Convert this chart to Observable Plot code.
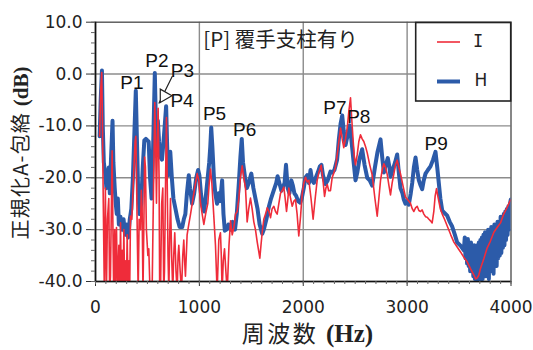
<!DOCTYPE html>
<html><head><meta charset="utf-8">
<script src="https://cdn.jsdelivr.net/npm/d3@7"></script>
<script src="https://cdn.jsdelivr.net/npm/@observablehq/plot@0.6"></script>
<style>body{margin:0;background:#fff} svg{display:block}</style>
</head><body><div id="chart"></div>
<script>
// Series H (thick blue)
const hFreq = [40,50,62,70,80,95,105,115,128,138,150,164,172,185,195,205,215,225,240,255,270,285,300,315,330,345,360,375,388,398,410,425,440,455,470,485,500,512,525,540,555,571,582,592,600,612,625,640,655,670,680,690,702,720,735,750,770,790,810,835,850,865,880,898,910,930,950,970,988,1000,1015,1030,1045,1060,1080,1095,1105,1114,1125,1140,1153,1170,1185,1200,1219,1232,1245,1260,1280,1300,1320,1343,1360,1380,1395,1408,1420,1440,1457,1475,1500,1520,1540,1560,1580,1605,1620,1645,1670,1690,1720,1740,1753,1770,1790,1801,1820,1834,1850,1867,1885,1900,1915,1932,1950,1970,1985,2005,2020,2038,2055,2070,2085,2102,2120,2140,2160,2175,2190,2214,2235,2262,2280,2300,2326,2343,2360,2375,2390,2407,2425,2448,2465,2481,2503,2520,2540,2567,2590,2616,2640,2664,2690,2715,2744,2760,2776,2795,2814,2830,2840,2860,2885,2904,2920,2936,2955,2968,2984,3000,3016,3035,3049,3065,3081,3097,3113,3130,3145,3160,3177,3200,3225,3250,3273,3290,3305,3320,3338,3360,3386,3410,3434,3460,3482,3510,3546,3555,3562,3570,3577,3585,3592,3600,3607,3615,3622,3630,3637,3645,3652,3660,3667,3675,3682,3690,3697,3705,3712,3720,3727,3735,3742,3750,3757,3765,3772,3780,3787,3795,3802,3810,3817,3825,3832,3840,3847,3855,3862,3870,3877,3885,3892,3900,3907,3915,3922,3930,3937,3945,3952,3960,3967,3975,3982,3990,3998];
const hDb = [-12,-5,0.7,-10,-17,-19.5,-22,-20,-18,-23,-16,-9,-17,-22,-25,-27,-24,-29,-27.5,-30,-28,-31,-29,-31.5,-28,-26,-20,-11,-3.2,-12,-22,-27,-25,-18,-12.8,-12.5,-12.8,-13,-20,-24,-14,0.2,-10,-14,-9,-13,-16,-16.5,-13,-9,-6.2,-14,-19.5,-15,-20,-24,-26,-28,-29.5,-29.5,-28,-27,-23,-19.5,-22,-25,-23,-20,-18.5,-19.5,-23,-25.5,-26.5,-24,-20,-17,-14,-10.3,-14,-20,-23,-25,-23,-24.5,-20.5,-27,-30.2,-30,-29,-30,-28.5,-30,-27,-21,-16,-12.5,-17,-20,-22,-21,-19.2,-22,-24,-26,-29,-30.8,-30,-28,-25.5,-24,-22.2,-21,-19.7,-21,-22.5,-22,-21,-17.5,-22,-23,-20.5,-21.5,-23,-23.5,-24.5,-24.8,-24,-22,-20,-19.5,-21,-18.5,-20.5,-21,-20,-19,-17.8,-17.5,-19.5,-21.2,-20.5,-18.8,-19,-18.5,-16.5,-12.5,-9.5,-8,-11,-13.7,-12,-9.9,-13,-16.2,-20.5,-19,-16.5,-14.5,-17.5,-20,-20.5,-21.5,-18,-15,-12.6,-16,-19,-17.5,-16.2,-18,-19.8,-18.5,-17,-15.5,-19,-22,-23,-24.2,-25,-24.5,-25.2,-23,-21,-18,-16.1,-18.5,-20.5,-21.5,-22.2,-20.5,-19.2,-18.5,-17.8,-16.5,-15,-18,-21,-24,-26.3,-26.8,-27.3,-28.5,-29.4,-31,-32.5,-33,-34,-31.5,-35.5,-32,-36.5,-31.8,-37,-33,-38,-32.5,-37.5,-34,-39,-33,-39.5,-34.5,-40,-33,-39.5,-32.5,-40,-32,-38.5,-31.5,-39.5,-31,-38,-30.5,-39,-31,-38.5,-30,-39.5,-30.5,-38,-29.5,-37.5,-30,-38.5,-29,-36.5,-29.5,-37,-28.5,-35.5,-28.5,-35,-27.5,-34.5,-28,-33.5,-27,-33,-26.5,-32,-26,-31,-25.5,-30,-25,-24.2];

// Series I (thin red)
const iFreq = [40,50,60,66,75,85,95,105,115,128,136,144,150,160,168,175,185,192,202,212,225,233,241,249,257,265,273,281,289,297,305,313,321,329,337,350,362,372,381,388,395,403,411,420,433,441,449,457,465,473,481,490,504,513,525,545,560,571,580,587,595,603,612,618,626,637,648,657,664,675,683,690,698,706,714,722,733,744,753,763,775,786,795,802,815,828,840,850,858,866,882,898,915,931,955,979,995,1011,1027,1043,1060,1081,1095,1107,1120,1139,1155,1171,1187,1203,1211,1219,1230,1242,1255,1268,1285,1300,1316,1332,1348,1364,1380,1395,1412,1428,1444,1460,1475,1492,1508,1524,1540,1557,1570,1582,1593,1605,1620,1637,1653,1670,1685,1700,1717,1733,1749,1765,1781,1797,1813,1826,1839,1850,1861,1878,1894,1910,1925,1941,1957,1974,1990,2006,2022,2038,2054,2075,2095,2115,2134,2150,2173,2190,2205,2218,2231,2245,2262,2278,2294,2310,2320,2340,2359,2375,2390,2407,2423,2440,2455,2468,2481,2492,2503,2520,2535,2551,2567,2583,2600,2616,2640,2664,2690,2712,2728,2744,2760,2776,2792,2808,2825,2840,2856,2872,2888,2904,2920,2936,2960,2984,3008,3032,3050,3065,3081,3097,3113,3129,3145,3161,3177,3193,3210,3225,3241,3257,3270,3283,3295,3305,3320,3338,3360,3386,3420,3450,3480,3514,3545,3578,3610,3642,3660,3675,3690,3706,3740,3771,3800,3835,3870,3899,3930,3960,3995];
const iDb = [-12,-3,0.3,-8,-25,-42,-22,-42,-28,-24,-42,-39,-30,-14.8,-30,-42,-30,-42,-29.6,-42,-33,-42,-28.7,-42,-34,-42,-30,-42,-36,-42,-31,-42,-36,-42,-27.4,-28,-22,-17,-13,-12,-20,-32,-42,-28,-30,-22.4,-26,-42,-30,-16,-18,-30,-35,-33.7,-42,-42,-20,-5.5,-15,-24.9,-14,-6.6,-20,-42,-42,-25,-22,-42,-38,-20,-8.4,-20,-35,-42,-32,-24,-35,-42,-35,-30.6,-38,-42,-35,-33,-38,-42,-35,-32,-36,-39,-31,-29,-27,-25,-22,-19.2,-20.5,-24.9,-27,-29,-27,-25,-21,-18.3,-21,-27.4,-33,-42,-32,-30.6,-35,-42,-36,-33.7,-38,-42,-33,-28.3,-31,-29.6,-27,-26.5,-24,-20,-17.7,-20,-22,-28.5,-26,-23.9,-26,-28.5,-30,-32.4,-34,-35.5,-33,-30.5,-28,-27,-25.8,-26.5,-27.7,-26,-25.5,-26.5,-27,-25,-23,-22.5,-21.8,-24,-26.5,-24.5,-22,-24,-25.5,-24.5,-24.2,-27,-31.2,-27.5,-23,-21,-19.9,-20.8,-20.5,-24,-28,-24,-20.5,-19,-17.6,-20.5,-23.6,-22,-21.3,-22.5,-22.5,-20,-19.1,-18,-16.6,-13.5,-10.4,-12.5,-14.2,-12.5,-10.4,-7,-4.6,-9,-13,-16,-17.5,-15.5,-13,-11.7,-12.5,-13,-14,-15.2,-17.5,-19.5,-24,-27.4,-24,-20.5,-18.5,-17.3,-18,-19.3,-21.5,-23.3,-21,-19.3,-17.5,-16.6,-18,-19.2,-21.5,-23.7,-24.3,-24.9,-26,-26.5,-25.8,-25.5,-26.3,-26.5,-26.2,-27,-27.5,-27.6,-28,-28.3,-28.7,-26.5,-23.5,-22.1,-23.5,-24.5,-26,-27,-28,-29.3,-31,-32.4,-33.3,-34.3,-35.3,-36.2,-37.5,-38.7,-39.5,-39.3,-38.8,-37.5,-35.5,-33.5,-32.3,-30.5,-29.5,-28.7,-27,-25.8,-24.3];

const xTicks = [0, 1000, 2000, 3000, 4000];
const xMinorTicks = [0,100,200,300,400,500,600,700,800,900,1000,1100,1200,1300,1400,1500,1600,1700,1800,1900,2000,2100,2200,2300,2400,2500,2600,2700,2800,2900,3000,3100,3200,3300,3400,3500,3600,3700,3800,3900,4000];
const yTicks = [-40, -30, -20, -10, 0, 10];
const yMinorTicks = [-40,-38,-36,-34,-32,-30,-28,-26,-24,-22,-20,-18,-16,-14,-12,-10,-8,-6,-4,-2,0,2,4,6,8,10];
const xGrid = [1000, 2000, 3000];
const yGrid = [-30, -20, -10, 0];

const peakLabels = ["P1","P2","P3","P4","P5","P6","P7","P8","P9"];
const peakFreq = [350, 591, 836, 833, 1146, 1436, 2305, 2535, 3279];
const peakDb = [-1.7, 2.5, 0.7, -5.2, -7.7, -10.8, -6.5, -8.3, -13.4];

const pointerFreq = [737, 612];
const pointerDb = [-0.5, -5.6];
const markerFreq = [661];
const markerDb = [-4.2];

const titleText = "[P] 覆手支柱有り";
const titleFreq = [1781];
const titleDb = [6.5];

const seriesNames = ["I", "H"];
const seriesColors = ["#ef2c3a", "#2c5ba9"];

const hData = hFreq.map((f, k) => ({f, v: hDb[k]}));
const iData = iFreq.map((f, k) => ({f, v: iDb[k]}));

const plot = Plot.plot({
  width: 533,
  height: 350,
  marginLeft: 95,
  marginRight: 22.5,
  marginTop: 21.7,
  marginBottom: 69,
  x: {domain: [0, 4000]},
  y: {domain: [-40, 10]},
  style: {fontFamily: "DejaVu Sans", fontSize: "17px", background: "#fff", color: "#222"},
  marks: [
    Plot.ruleX(xGrid, {stroke: "#8c8c8c", strokeWidth: 1.4}),
    Plot.ruleY(yGrid, {stroke: "#8c8c8c", strokeWidth: 1.4}),
    Plot.frame({stroke: "#555", strokeWidth: 1.4}),
    Plot.line(hData, {x: "f", y: "v", stroke: seriesColors[1], strokeWidth: 4, clip: true, strokeLinejoin: "round"}),
    Plot.line(iData, {x: "f", y: "v", stroke: seriesColors[0], strokeWidth: 1.6, clip: true, strokeLinejoin: "round"}),
    Plot.ruleX([0], {stroke: "#111", strokeWidth: 1.6}),
    Plot.ruleY([-40], {stroke: "#111", strokeWidth: 1.6}),
    Plot.axisY(yTicks, {tickSize: 9, tickPadding: 4, tickFormat: d => d.toFixed(1), label: null, fontSize: 17, stroke: "#333"}),
    Plot.axisY(yMinorTicks, {tickSize: 4, text: null, label: null, stroke: "#666"}),
    Plot.axisX(xTicks, {tickSize: 5, tickPadding: 14, tickFormat: d => String(d), label: null, fontSize: 17, stroke: "#333"}),
    Plot.axisX(xMinorTicks, {tickSize: 3, text: null, label: null, stroke: "#666"}),
    Plot.text([titleText], {x: () => titleFreq[0], y: () => titleDb[0], text: d => d, fontFamily: "Noto Sans CJK JP", fontSize: 20.5, fill: "#222"}),
    Plot.line(pointerFreq.map((f, k) => ({f, v: pointerDb[k]})), {x: "f", y: "v", stroke: "#222", strokeWidth: 1.2}),
    Plot.dot(markerFreq.map((f, k) => ({f, v: markerDb[k]})), {x: "f", y: "v", symbol: "triangle", rotate: 90, r: 5, fill: "#fff", stroke: "#222", strokeWidth: 1.2}),
    Plot.text(peakLabels.map((t, k) => ({t, f: peakFreq[k], v: peakDb[k]})), {x: "f", y: "v", text: "t", fontFamily: "Liberation Sans", fontSize: 19, fill: "#111"})
  ]
});

const svg = d3.select(plot);
// legend
const lg = svg.append("g");
lg.append("rect").attr("x", 415.7).attr("y", 22.5).attr("width", 95).attr("height", 78.5).attr("fill", "#fff").attr("stroke", "#222").attr("stroke-width", 1.6);
lg.append("line").attr("x1", 437).attr("x2", 460).attr("y1", 42).attr("y2", 42).attr("stroke", seriesColors[0]).attr("stroke-width", 1.6);
lg.append("line").attr("x1", 437).attr("x2", 460).attr("y1", 81.5).attr("y2", 81.5).attr("stroke", seriesColors[1]).attr("stroke-width", 4);
lg.append("text").attr("x", 478).attr("y", 47).attr("text-anchor", "middle").attr("font-family", "DejaVu Sans Mono").attr("font-size", 17).attr("fill", "#222").text(seriesNames[0]);
lg.append("text").attr("x", 481).attr("y", 86).attr("text-anchor", "middle").attr("font-family", "DejaVu Sans").attr("font-size", 17).attr("fill", "#222").text(seriesNames[1]);

// axis titles
const yl = svg.append("text").attr("transform", "translate(28,153) rotate(-90)").attr("text-anchor", "middle").attr("fill", "#222");
yl.append("tspan").attr("font-family", "Noto Sans CJK JP").attr("font-size", 20).attr("letter-spacing", 1.2).text("正規化A-包絡 ");
yl.append("tspan").attr("font-family", "Liberation Serif").attr("font-weight", "bold").attr("font-size", 21).text("(dB)");

const xl = svg.append("text").attr("x", 307.5).attr("y", 342).attr("text-anchor", "middle").attr("fill", "#222");
xl.append("tspan").attr("font-family", "Noto Sans CJK JP").attr("font-size", 23).attr("letter-spacing", 2.5).text("周波数 ");
xl.append("tspan").attr("font-family", "Liberation Serif").attr("font-weight", "bold").attr("font-size", 25).text("(Hz)");

document.getElementById("chart").appendChild(plot);
</script>
</body></html>
